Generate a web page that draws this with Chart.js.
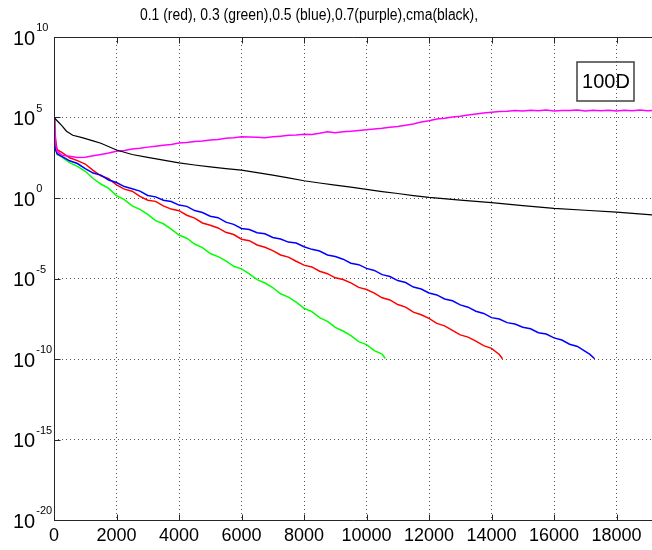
<!DOCTYPE html>
<html><head><meta charset="utf-8">
<script src="https://cdn.jsdelivr.net/npm/chart.js@4.4.1/dist/chart.umd.min.js"></script>
<style>html,body{margin:0;padding:0;background:#fff;}</style>
</head><body>
<canvas id="c" width="652" height="550"></canvas>
<script>
const TITLE = "0.1 (red), 0.3 (green),0.5 (blue),0.7(purple),cma(black),";
const BOX_LABEL = "100D";
const X_MAX = 19136;
const xTicks = [0,2000,4000,6000,8000,10000,12000,14000,16000,18000];
const yExponents = [-20,-15,-10,-5,0,5,10];

// iteration counts (x) and log10 of the plotted value (y)
const redIter = [0,50,100,250,500,750,1000,1250,1500,1750,2000,2250,2500,2750,3000,3250,3500,3750,4000,4250,4500,4750,5000,5250,5500,5750,6000,6250,6500,6750,7000,7250,7500,7750,8000,8250,8500,8750,9000,9250,9500,9750,10000,10250,10500,10750,11000,11250,11500,11750,12000,12250,12500,12750,13000,13250,13500,13750,14000,14250,14350];
const redLog10 = [5.0,3.6,3.0,2.84,2.5,2.32,2.11,1.72,1.38,1.2,0.81,0.55,0.42,0.1,-0.14,-0.21,-0.49,-0.69,-0.79,-1.07,-1.25,-1.55,-1.69,-1.86,-2.13,-2.27,-2.56,-2.65,-2.92,-3.06,-3.27,-3.54,-3.67,-3.93,-4.17,-4.28,-4.55,-4.7,-4.96,-5.06,-5.27,-5.55,-5.68,-5.91,-6.2,-6.33,-6.62,-6.78,-7.09,-7.25,-7.48,-7.79,-7.94,-8.22,-8.5,-8.64,-8.89,-9.17,-9.34,-9.72,-9.98];

const greenIter = [0,30,60,100,250,500,750,1000,1250,1500,1750,2000,2250,2500,2750,3000,3250,3500,3750,4000,4250,4500,4750,5000,5250,5500,5750,6000,6250,6500,6750,7000,7250,7500,7750,8000,8250,8500,8750,9000,9250,9500,9750,10000,10250,10500,10600];
const greenLog10 = [5.0,4.0,3.0,2.7,2.54,2.2,1.97,1.66,1.21,0.87,0.6,0.15,-0.1,-0.49,-0.71,-1.02,-1.41,-1.6,-1.93,-2.3,-2.5,-2.86,-3.08,-3.45,-3.64,-3.9,-4.24,-4.4,-4.71,-5.07,-5.28,-5.56,-5.95,-6.16,-6.47,-6.85,-7.06,-7.43,-7.66,-8.04,-8.26,-8.55,-8.92,-9.11,-9.48,-9.7,-9.97];

const blueIter = [0,50,100,250,500,750,1000,1250,1500,1750,2000,2250,2500,2750,3000,3250,3500,3750,4000,4250,4500,4750,5000,5250,5500,5750,6000,6250,6500,6750,7000,7250,7500,7750,8000,8250,8500,8750,9000,9250,9500,9750,10000,10250,10500,10750,11000,11250,11500,11750,12000,12250,12500,12750,13000,13250,13500,13750,14000,14250,14500,14750,15000,15250,15500,15750,16000,16250,16500,16750,17000,17150,17300];
const blueLog10 = [3.8,3.0,2.75,2.58,2.31,2.14,1.83,1.55,1.42,1.12,0.96,0.71,0.58,0.43,0.16,0.07,-0.14,-0.22,-0.44,-0.52,-0.78,-0.9,-1.13,-1.22,-1.5,-1.64,-1.89,-1.96,-2.16,-2.22,-2.45,-2.55,-2.74,-2.8,-3.03,-3.19,-3.29,-3.54,-3.63,-3.8,-4.05,-4.14,-4.37,-4.5,-4.76,-4.88,-5.13,-5.25,-5.53,-5.65,-5.9,-6.02,-6.27,-6.38,-6.64,-6.78,-7.03,-7.17,-7.43,-7.52,-7.74,-7.83,-8.03,-8.12,-8.37,-8.45,-8.69,-8.82,-9.08,-9.22,-9.53,-9.71,-9.98];

const purpleIter = [0,30,60,100,250,500,750,1000,1250,1500,1750,2000,2250,2500,2750,3000,3250,3500,3750,4000,4250,4500,4750,5000,5250,5500,5750,6000,6250,6500,6750,7000,7250,7500,7750,8000,8250,8500,8750,9000,9250,9500,9750,10000,10250,10500,10750,11000,11250,11500,11750,12000,12250,12500,12750,13000,13250,13500,13750,14000,14250,14500,14750,15000,15250,15500,15750,16000,16250,16500,16750,17000,17250,17500,17750,18000,18250,18500,18750,19000,19136];
const purpleLog10 = [5.0,4.2,3.3,2.9,2.66,2.6,2.52,2.53,2.62,2.7,2.79,2.9,2.95,3.04,3.09,3.16,3.22,3.27,3.33,3.41,3.44,3.51,3.54,3.6,3.64,3.71,3.74,3.81,3.79,3.78,3.74,3.8,3.84,3.89,3.91,3.96,3.95,4.02,4.12,4.06,4.11,4.14,4.19,4.24,4.29,4.33,4.4,4.44,4.52,4.6,4.72,4.8,4.9,4.95,5.03,5.08,5.15,5.22,5.28,5.32,5.37,5.39,5.43,5.41,5.45,5.42,5.46,5.41,5.44,5.43,5.46,5.4,5.45,5.42,5.45,5.41,5.45,5.42,5.46,5.42,5.44];

const cmaIter = [0,100,250,400,600,900,1250,1500,2000,2500,3000,3500,4000,4500,5000,5500,6000,6500,7000,7500,8000,8500,9000,9500,10000,10500,11000,11500,12000,13000,14000,15000,16000,17000,18000,19136];
const cmaLog10 = [5.0,4.8,4.5,4.15,3.9,3.75,3.55,3.4,2.98,2.7,2.52,2.35,2.18,2.05,1.93,1.83,1.73,1.58,1.42,1.25,1.07,0.93,0.8,0.67,0.53,0.4,0.28,0.15,0.04,-0.13,-0.29,-0.47,-0.64,-0.76,-0.88,-1.05];

const FONT = '"Liberation Sans", Arial, Helvetica, sans-serif';
const GRID = '#555555';
const AXIS = '#262626';

function pts(xs, ls) { return xs.map((x, i) => ({ x: x, y: Math.pow(10, ls[i]) })); }

const decor = {
  id: 'decor',
  afterDatasetsDraw(chart) {
    const ctx = chart.ctx, a = chart.chartArea;
    const xs = chart.scales.x, ys = chart.scales.y;
    ctx.save();
    ctx.strokeStyle = AXIS; ctx.lineWidth = 1;
    const L = Math.round(a.left) + 0.5, B = Math.round(a.bottom) + 0.5, T = Math.round(a.top) + 0.5;
    ctx.beginPath();
    ctx.moveTo(L, T); ctx.lineTo(a.right, T);
    ctx.moveTo(L, T); ctx.lineTo(L, B);
    ctx.moveTo(L, B); ctx.lineTo(a.right, B);
    for (const v of xTicks) {
      const px = Math.round(xs.getPixelForValue(v)) + 0.5;
      ctx.moveTo(px, B); ctx.lineTo(px, B - 6);
      ctx.moveTo(px, T); ctx.lineTo(px, T + 6);
    }
    for (const e of yExponents) {
      const py = Math.round(ys.getPixelForValue(Math.pow(10, e))) + 0.5;
      ctx.moveTo(L, py); ctx.lineTo(L + 6, py);
    }
    ctx.stroke();
    // y tick labels 10^e
    ctx.fillStyle = '#000'; ctx.textAlign = 'left'; ctx.textBaseline = 'alphabetic';
    for (const e of yExponents) {
      const py = ys.getPixelForValue(Math.pow(10, e));
      ctx.font = '20px ' + FONT;
      ctx.fillText('10', 13, py + 7.5);
      const w = ctx.measureText('10').width;
      ctx.font = '11px ' + FONT;
      ctx.fillText(String(e), 13 + w + 1, py - 6);
    }
    // title
    ctx.save();
    ctx.font = '16px ' + FONT;
    ctx.textAlign = 'center';
    ctx.translate(309, 20);
    ctx.scale(0.87, 1);
    ctx.fillText(TITLE, 0, 0);
    ctx.restore();
    // annotation box
    ctx.strokeStyle = '#404040'; ctx.lineWidth = 1.5;
    ctx.strokeRect(577, 62, 57, 39);
    ctx.font = '20px ' + FONT;
    ctx.textAlign = 'center'; ctx.textBaseline = 'middle';
    ctx.fillText(BOX_LABEL, 606, 82);
    ctx.restore();
  }
};

new Chart(document.getElementById('c'), {
  type: 'line',
  data: {
    datasets: [
      { label: 'cma', data: pts(cmaIter, cmaLog10), borderColor: '#000000', borderWidth: 1.2 },
      { label: '0.7', data: pts(purpleIter, purpleLog10), borderColor: '#ff00ff' },
      { label: '0.5', data: pts(blueIter, blueLog10), borderColor: '#0000ff' },
      { label: '0.1', data: pts(redIter, redLog10), borderColor: '#ff0000' },
      { label: '0.3', data: pts(greenIter, greenLog10), borderColor: '#00ff00' }
    ]
  },
  options: {
    responsive: false,
    animation: false,
    layout: { padding: { top: 37, left: 0, right: 0, bottom: 0 } },
    plugins: { legend: { display: false }, title: { display: false }, tooltip: { enabled: false } },
    elements: { point: { radius: 0 }, line: { borderWidth: 1.5, tension: 0, fill: false } },
    scales: {
      x: {
        type: 'linear', min: 0, max: X_MAX,
        afterBuildTicks: s => { s.ticks = xTicks.map(v => ({ value: v })); },
        afterFit: s => { s.height = 30; },
        grid: { color: GRID, lineWidth: 1, drawTicks: false },
        border: { display: false, dash: [1, 3] },
        ticks: { font: { family: FONT, size: 18 }, color: '#000', padding: 5, maxRotation: 0, autoSkip: false, callback: v => String(v) }
      },
      y: {
        type: 'logarithmic', min: 1e-20, max: 1e10,
        afterBuildTicks: s => { s.ticks = yExponents.map(e => ({ value: Math.pow(10, e) })); },
        afterFit: s => { s.width = 54; },
        grid: { color: GRID, lineWidth: 1, drawTicks: false },
        border: { display: false, dash: [1, 3] },
        ticks: { display: false }
      }
    }
  },
  plugins: [decor]
});
</script>
</body></html>
